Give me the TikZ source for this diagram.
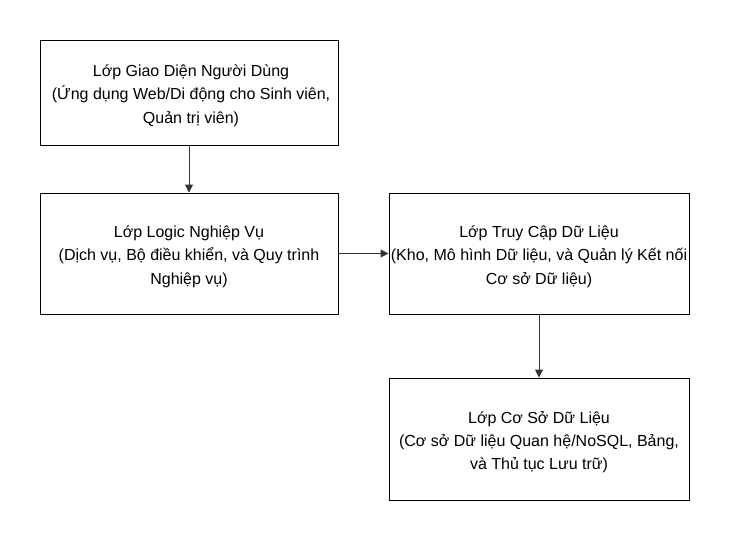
\documentclass[tikz,border=0pt]{standalone}
\usepackage{fontspec}
\setmainfont{Liberation Sans}
\usetikzlibrary{arrows.meta}
\begin{document}
\begin{tikzpicture}[x=1pt,y=-1pt,
  layerbox/.style={draw=black, line width=1pt, minimum width=298pt, minimum height=#1, inner sep=0pt},
  layertext/.style={align=center, inner sep=0pt, font=\fontsize{16pt}{23.3pt}\selectfont},
  conn/.style={draw=black!80, line width=1pt, -{Triangle[length=8pt,width=8pt]}}]
\useasboundingbox (0,0) rectangle (730,541);
\node[layerbox=105pt] (ui) at (189,92.5) {};
\node[layerbox=121pt] (logic) at (189,253.5) {};
\node[layerbox=121pt, minimum width=300pt] (data) at (539,253.5) {};
\node[layerbox=122pt, minimum width=300pt] (db) at (539,439) {};
\node[layertext] (uitext) at ([xshift=2pt,yshift=-3pt]ui.center) {Lớp Giao Diện Người Dùng\\(Ứng dụng Web/Di động cho Sinh viên,\\Quản trị viên)};
\node[layertext] (logictext) at ([yshift=-3pt]logic.center) {Lớp Logic Nghiệp Vụ\\(Dịch vụ, Bộ điều khiển, và Quy trình\\Nghiệp vụ)};
\node[layertext] (datatext) at ([yshift=-3pt]data.center) {Lớp Truy Cập Dữ Liệu\\(Kho, Mô hình Dữ liệu, và Quản lý Kết nối\\Cơ sở Dữ liệu)};
\node[layertext] (dbtext) at ([yshift=-3pt]db.center) {Lớp Cơ Sở Dữ Liệu\\(Cơ sở Dữ liệu Quan hệ/NoSQL, Bảng,\\và Thủ tục Lưu trữ)};
\draw[conn] (ui) -- (logic);
\draw[conn] (logic) -- (data);
\draw[conn] (data) -- (db);
\end{tikzpicture}
\end{document}
